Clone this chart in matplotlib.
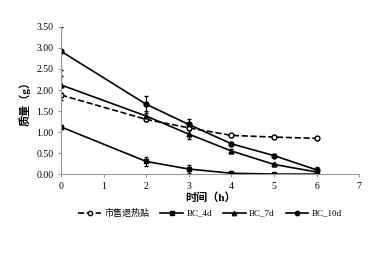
import matplotlib
matplotlib.use('Agg')
import matplotlib.pyplot as plt

plt.rcParams['font.family'] = ['Liberation Serif', 'Noto Sans CJK SC']

hours = [0, 2, 3, 4, 5, 6]
names = ['市售退热贴', 'BC_4d', 'BC_7d', 'BC_10d']
patch = [1.88, 1.30, 1.10, 0.92, 0.88, 0.85]
bc4 = [1.12, 0.30, 0.12, 0.02, 0.0, 0.0]
bc7 = [2.12, 1.38, 0.95, 0.55, 0.23, 0.05]
bc10 = [2.92, 1.66, 1.18, 0.72, 0.44, 0.10]
err_patch = [0.05, 0.04, 0.05, 0.03, 0.03, 0.03]
err4 = [0.05, 0.10, 0.10, 0.03, 0.02, 0.02]
err7 = [0.35, 0.12, 0.12, 0.05, 0.04, 0.04]
err10 = [0.58, 0.20, 0.12, 0.05, 0.04, 0.08]

fig = plt.figure(figsize=(3.82, 2.75), dpi=100)
ax = fig.add_axes([0.16, 0.367, 0.78, 0.535])

kw = dict(color='black', lw=1.2, ms=3.5, capsize=1.5, elinewidth=0.8)
ax.errorbar(hours, patch, yerr=err_patch, marker='o', mfc='white', ls='--', label=names[0], **kw)
ax.errorbar(hours, bc4, yerr=err4, marker='s', ls='-', label=names[1], **kw)
ax.errorbar(hours, bc7, yerr=err7, marker='^', ls='-', label=names[2], **kw)
ax.errorbar(hours, bc10, yerr=err10, marker='o', ls='-', label=names[3], **kw)

ax.set_xlim(0, 7)
ax.set_ylim(0, 3.5)
ax.set_xticks(range(8))
ax.set_yticks([i * 0.5 for i in range(8)])
ax.set_yticklabels(['%.2f' % (i * 0.5) for i in range(8)])
ax.tick_params(labelsize=7, length=2, color='#999999')
for s in ['top', 'right']:
    ax.spines[s].set_visible(False)
for s in ['left', 'bottom']:
    ax.spines[s].set_color('#999999')

ax.set_xlabel('时间（h）', fontsize=8, fontweight='bold', labelpad=1)
ax.set_ylabel('质量（g）', fontsize=8, fontweight='bold')

handles, labels = ax.get_legend_handles_labels()
handles = [h[0] for h in handles]
ax.legend(handles, labels, loc='upper center', bbox_to_anchor=(0.5, -0.18), ncol=4,
          frameon=False, fontsize=6.5, handlelength=2.5, handletextpad=0.4,
          columnspacing=1.2, markerscale=0.9)

fig.savefig('out.png', dpi=100)
